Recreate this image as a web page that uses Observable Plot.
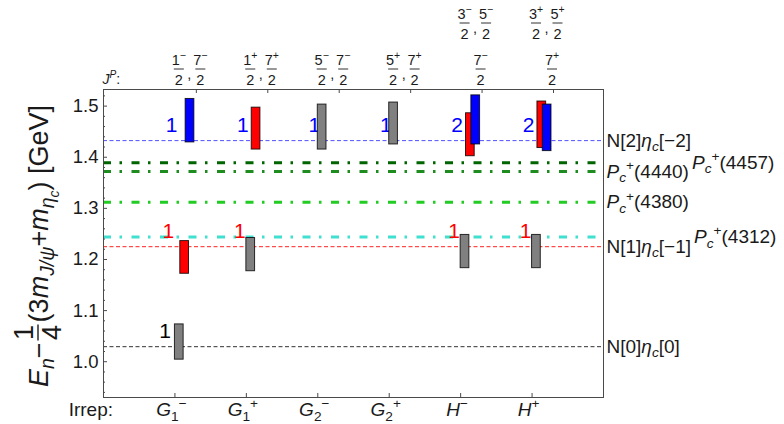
<!DOCTYPE html>
<html>
<head>
<meta charset="utf-8">
<script src="https://cdn.jsdelivr.net/npm/d3@7"></script>
<script src="https://cdn.jsdelivr.net/npm/@observablehq/plot@0.6"></script>
<style>
  body { margin: 0; background: #fff; }
  svg text { white-space: pre; }
</style>
</head>
<body>
<div id="chart"></div>
<script>
// Lattice irreps along the bottom axis
const irreps = ["G1-", "G1+", "G2-", "G2+", "H-", "H+"];

// J^P content of each irrep, one list per row of fractions (top row first)
const jpRows = [
  [["1/2-", "7/2-"]],
  [["1/2+", "7/2+"]],
  [["5/2-", "7/2-"]],
  [["5/2+", "7/2+"]],
  [["3/2-", "5/2-"], ["7/2-"]],
  [["3/2+", "5/2+"], ["7/2+"]]
];

// Energy levels: irrep (1-based), slot inside the irrep, band in GeV, colour class
const levelIrrep = [1, 1, 1, 2, 2, 3, 4, 5, 5, 5, 6, 6, 6];
const levelSlot  = [0, 1, 2, 0, 1, 0, 0, 0, 1, 2, 0, 1, 2];
const levelLow   = [1.004, 1.172, 1.429, 1.177, 1.415, 1.415, 1.425, 1.183, 1.402, 1.425, 1.183, 1.418, 1.412];
const levelHigh  = [1.073, 1.236, 1.514, 1.242, 1.497, 1.503, 1.507, 1.248, 1.486, 1.521, 1.248, 1.509, 1.503];
const levelKind  = ["gray", "red", "blue", "gray", "red", "gray", "gray", "gray", "red", "blue", "gray", "red", "blue"];

// Non-interacting N + eta_c thresholds: momenta of N and eta_c, energy in GeV
const thresholdN   = ["0", "1", "2"];
const thresholdEta = ["0", "\u22121", "\u22122"];
const thresholdValues = [1.0294, 1.225, 1.4325];
// Number of non-interacting levels at each threshold, per irrep
const thresholdCounts = [
  [1, 0, 0, 0, 0, 0],
  [1, 1, 0, 0, 1, 1],
  [1, 1, 1, 1, 2, 2]
];

// Pentaquark candidates P_c^+ (MeV name) and their energy on this scale (GeV)
const pcNames  = ["4457", "4440", "4380", "4312"];
const pcValues = [1.389, 1.372, 1.312, 1.244];

// Y axis tick labels
const yTicks = [1.0, 1.1, 1.2, 1.3, 1.4, 1.5];

// ---- styling ----
const FONT = "'Liberation Sans', Arial, Helvetica, sans-serif";
const INK = "#1a1a1a";
const FRAME = "#4a4a4a";
const kindFill = {gray: "#808080", red: "#ff0000", blue: "#0000ff"};
const thresholdStroke = ["#333333", "#ff2020", "#5050ff"];
const countFill = ["#000000", "#ff0000", "#0000ff"];
const countDx = [-0.138, -0.092, -0.048];
const pcStroke = ["#006400", "#1e8c1e", "#22cc22", "#40e0d0"];

const W = 784, H = 424;
const mL = 103, mR = 181, mT = 89, mB = 27;
const xDomain = [0, 7];
const yDomain = [0.930, 1.5325];
const pxX = (xDomain[1] - xDomain[0]) / (W - mL - mR);
const pxY = (yDomain[1] - yDomain[0]) / (H - mT - mB);

const levels = levelIrrep.map((i, k) => ({
  x1: i + 0.075 * levelSlot[k],
  x2: i + 0.075 * levelSlot[k] + 0.122,
  y1: levelLow[k], y2: levelHigh[k],
  fill: kindFill[levelKind[k]]
}));

const thresholds = thresholdValues.map((v, t) => ({value: v, stroke: thresholdStroke[t]}));
const pcs = pcValues.map((v, k) => ({value: v, name: pcNames[k], stroke: pcStroke[k]}));

const counts = [];
thresholdCounts.forEach((row, t) => row.forEach((c, k) => {
  if (c > 0) counts.push({x: k + 1 + countDx[t], y: thresholdValues[t] + 0.03, text: String(c), fill: countFill[t]});
}));

const irrepIdx = irreps.map((_, k) => k + 1);
const minorTicks = d3.ticks(yDomain[0], yDomain[1], 30).filter(v => !yTicks.some(t => Math.abs(t - v) < 1e-6));

const plot = Plot.plot({
  width: W, height: H,
  marginLeft: mL, marginRight: mR, marginTop: mT, marginBottom: mB,
  style: {fontFamily: FONT, fontSize: "18px", color: INK, background: "#fff"},
  x: {domain: xDomain, axis: null},
  y: {domain: yDomain, axis: null},
  color: {type: "identity"},
  marks: [
    // thresholds (thin dashed)
    Plot.ruleY(thresholds, {y: "value", stroke: "stroke", strokeWidth: 1, strokeDasharray: "4,2.5"}),
    // pentaquark states (thick dot-dashed)
    Plot.ruleY(pcs, {y: "value", stroke: "stroke", strokeWidth: 3, strokeDasharray: "8,8.5,2.5,9.5"}),
    // level counts at each threshold
    Plot.text(counts, {x: "x", y: "y", text: "text", fill: "fill", fontSize: 21, textAnchor: "middle", lineAnchor: "middle"}),
    // energy levels
    Plot.rect(levels, {x1: "x1", x2: "x2", y1: "y1", y2: "y2", fill: "fill", stroke: "#000", strokeOpacity: 0.8, strokeWidth: 1}),
    // inward frame ticks
    Plot.ruleY(minorTicks, {y: d => d, x1: xDomain[0], x2: xDomain[0] + 2 * pxX, stroke: FRAME}),
    Plot.ruleY(yTicks, {y: d => d, x1: xDomain[0], x2: xDomain[0] + 4 * pxX, stroke: FRAME}),
    Plot.ruleX(irrepIdx, {x: d => d, y1: yDomain[0], y2: yDomain[0] + 4 * pxY, stroke: FRAME}),
    Plot.ruleX(irrepIdx, {x: d => d + 0.3, y1: yDomain[1] - 4 * pxY, y2: yDomain[1], stroke: FRAME}),
    // y tick labels
    Plot.text(yTicks, {x: xDomain[0], y: d => d, text: d => d.toFixed(1), textAnchor: "end", dx: -5, fontSize: 18.5, fill: INK}),
    Plot.frame({stroke: FRAME, strokeWidth: 1})
  ]
});

document.getElementById("chart").appendChild(plot);

// ---- rich text (sub/superscripts, fractions) placed with the plot's scales ----
const svg = d3.select(plot);
const sx = plot.scale("x"), sy = plot.scale("y");
const X = v => sx.apply(v), Y = v => sy.apply(v);
const layer = svg.append("g").attr("font-family", FONT).attr("fill", INK);

function rich(g, x, y, parts, size, anchor = "start") {
  const t = g.append("text").attr("x", x).attr("y", y)
    .attr("font-size", size).attr("text-anchor", anchor).attr("fill", INK);
  let shift = 0;
  for (const p of parts) {
    let fs = size, target = 0;
    if (p.sub === 1) { fs = size * 0.72; target = size * 0.24; }
    else if (p.sub === 2) { fs = size * 0.52; target = size * 0.42; }
    else if (p.sup) { fs = size * 0.72; target = -size * 0.4; }
    t.append("tspan").attr("font-size", fs).attr("dy", target - shift)
      .attr("font-style", p.it ? "italic" : "normal").text(p.t);
    shift = target;
  }
  return t;
}

const sign = s => s === "-" ? "\u2212" : "+";

// right-hand labels: thresholds first, then P_c states by energy
const right = [];
thresholdValues.forEach((v, t) => right.push({v, parts: [
  {t: `N[${thresholdN[t]}]`}, {t: "\u03b7", it: 1}, {t: "c", it: 1, sub: 1}, {t: `[${thresholdEta[t]}]`}
]}));
pcs.slice().sort((a, b) => a.value - b.value).forEach(p => right.push({v: p.value, parts: [
  {t: "P", it: 1}, {t: "c", it: 1, sub: 1}, {t: "+", sup: 1}, {t: `(${p.name})`}
]}));
const placed = [];
const xRight = X(xDomain[1]) + 3.5;
for (const r of right) {
  const y = Y(r.v);
  const clash = placed.find(p => Math.abs(p.y - y) < 14);
  const x = clash ? clash.x + clash.w + 3 : xRight;
  const t = rich(layer, x, y + 6.5, r.parts, 19);
  const w = t.node().getComputedTextLength();
  if (!clash) placed.push({x, y, w});
}

// J^P fractions above the frame
function frac(g, cx, barY, label) {
  const [nd, s] = [label.slice(0, -1), label.slice(-1)];
  const [num, den] = nd.split("/");
  const t = g.append("text").attr("x", cx).attr("y", barY - 4.5)
    .attr("text-anchor", "middle").attr("font-size", 14.5);
  t.append("tspan").text(num);
  t.append("tspan").attr("font-size", 10.5).attr("dy", -6).text(sign(s));
  g.append("text").attr("x", cx).attr("y", barY + 15.5)
    .attr("text-anchor", "middle").attr("font-size", 14.5).text(den);
  g.append("line").attr("x1", cx - 5).attr("x2", cx + 5)
    .attr("y1", barY).attr("y2", barY).attr("stroke", INK).attr("stroke-width", 0.9);
}
const rowBar = [69, 23];
jpRows.forEach((rows, k) => {
  const T = X(k + 1.3);
  rows.forEach((row, r) => {
    const barY = rowBar[rows.length - 1 - r];
    if (row.length === 2) {
      frac(layer, T - 17, barY, row[0]);
      layer.append("text").attr("x", T - 6.5).attr("y", barY + 9.5).attr("text-anchor", "middle")
        .attr("font-size", 14.5).text(",");
      frac(layer, T + 4.5, barY, row[1]);
    } else {
      frac(layer, T - 1, barY, row[0]);
    }
  });
});
rich(layer, X(0) - 0.5, 84, [{t: "J", it: 1}, {t: "P", it: 1, sup: 1}, {t: ":"}], 14);

// irrep labels below the frame
irreps.forEach((name, k) => {
  const parts = [{t: name[0], it: 1}];
  if (name.length === 3) parts.push({t: name[1], sub: 1});
  parts.push({t: sign(name.slice(-1)), sup: 1});
  rich(layer, X(k + 1) - 3, 416, parts, 19, "middle");
});
rich(layer, X(0) + 10, 416, [{t: "Irrep:"}], 19, "end");

// rotated y-axis title: E_n - 1/4 (3 m_{J/psi} + m_{eta_c}) [GeV]
const yMid = (mT + H - mB) / 2 + 3;
const outer = layer.append("g").attr("transform", `translate(48,${yMid}) rotate(-90)`);
const inner = outer.append("g");
const FS = 27;
const A = rich(inner, 0, 0, [{t: "E", it: 1}, {t: "n", it: 1, sub: 1}, {t: "\u2212"}], FS);
const wA = A.node().getComputedTextLength() + 1;
const n1 = inner.append("text").attr("font-size", FS).attr("text-anchor", "middle").attr("y", -15).text("1");
const d4 = inner.append("text").attr("font-size", FS).attr("text-anchor", "middle").attr("y", 13).text("4");
const fw = Math.max(n1.node().getComputedTextLength(), d4.node().getComputedTextLength()) + 3;
n1.attr("x", wA + fw / 2);
d4.attr("x", wA + fw / 2);
inner.append("line").attr("x1", wA + 1).attr("x2", wA + fw - 1).attr("y1", -10).attr("y2", -10)
  .attr("stroke", INK).attr("stroke-width", 1.4);
const B = rich(inner, wA + fw + 1, 0, [
  {t: "(3"}, {t: "m", it: 1}, {t: "J/\u03c8", it: 1, sub: 1}, {t: "+"}, {t: "m", it: 1},
  {t: "\u03b7", it: 1, sub: 1}, {t: "c", it: 1, sub: 2}, {t: ") [GeV]"}
], FS);
const L = wA + fw + 1 + B.node().getComputedTextLength();
inner.attr("transform", `translate(${-L / 2},0)`);
</script>
</body>
</html>
